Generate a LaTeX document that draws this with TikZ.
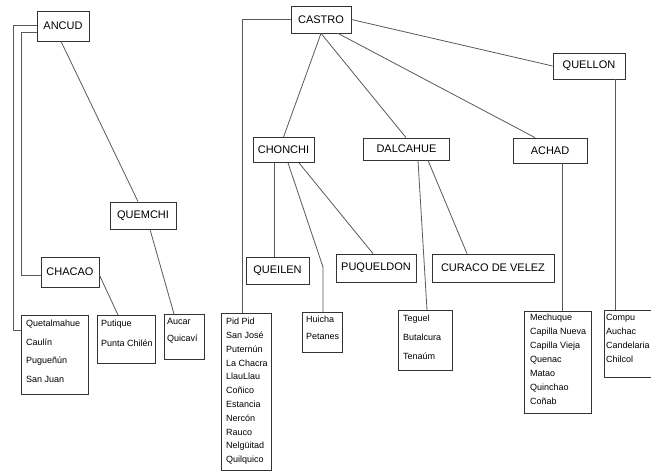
\documentclass[tikz,border=0pt]{standalone}
\usepackage{fontspec}
\setmainfont{Liberation Sans}
\usetikzlibrary{calc}
\tikzset{
  bigbox/.style={draw=black!80, line width=0.8pt, inner sep=0pt, font=\fontsize{11}{13}\selectfont},
  listbox/.style={draw=black!80, line width=0.8pt, inner sep=0pt, anchor=north west},
  listtext/.style={anchor=north west, inner sep=0pt, align=left},
  conn/.style={draw=black!65, line width=0.8pt},
}
\begin{document}
\begin{tikzpicture}[x=1pt,y=-1pt]
\useasboundingbox (0,0) rectangle (651,471);
% main boxes
\node[bigbox, minimum width=52pt, minimum height=30pt] (ancud) at (63,26) {ANCUD};
\node[bigbox, minimum width=66pt, minimum height=27pt] (quemchi) at (143,215.5) {QUEMCHI};
\node[bigbox, minimum width=58pt, minimum height=30pt] (chacao) at (70,272) {CHACAO};
\node[bigbox, minimum width=60pt, minimum height=27pt] (castro) at (321,19.5) {CASTRO};
\node[bigbox, minimum width=61pt, minimum height=25pt] (chonchi) at (283.5,150) {CHONCHI};
\node[bigbox, minimum width=86pt, minimum height=22pt] (dal) at (406.5,149) {DALCAHUE};
\node[bigbox, minimum width=74pt, minimum height=25pt] (achad) at (550,150.5) {ACHAD};
\node[bigbox, minimum width=72pt, minimum height=26pt] (quellon) at (589,66) {QUELLON};
\node[bigbox, minimum width=63pt, minimum height=27pt] (queilen) at (277.5,270.5) {QUEILEN};
\node[bigbox, minimum width=80pt, minimum height=28pt] (puq) at (376,268) {PUQUELDON};
\node[bigbox, minimum width=122pt, minimum height=28pt] (curaco) at (493,268) {CURACO DE VELEZ};
% list boxes
\node[listbox, minimum width=67pt, minimum height=79pt] (quet) at (21,315) {};
\node[listtext, font=\fontsize{9}{18.5}\selectfont] (quett) at ([xshift=5pt,yshift=-5pt]quet.north west) {Quetalmahue\\Caulín\\Pugueñún\\San Juan};
\node[listbox, minimum width=58pt, minimum height=48pt] (puti) at (97,315) {};
\node[listtext, font=\fontsize{9}{20}\selectfont] (putit) at ([xshift=4pt,yshift=-5pt]puti.north west) {Putique\\Punta Chilén};
\node[listbox, minimum width=40pt, minimum height=45pt] (aucar) at (164,314) {};
\node[listtext, font=\fontsize{9}{17}\selectfont] (aucart) at ([xshift=3pt,yshift=-4pt]aucar.north west) {Aucar\\Quicaví};
\node[listbox, minimum width=50pt, minimum height=157pt] (pid) at (221,313) {};
\node[listtext, font=\fontsize{9}{13.8}\selectfont] (pidt) at ([xshift=5pt,yshift=-5pt]pid.north west) {Pid Pid\\San José\\Puternún\\La Chacra\\LlauLlau\\Coñico\\Estancia\\Nercón\\Rauco\\Nelgüitad\\Quilquico};
\node[listbox, minimum width=40pt, minimum height=40pt] (huicha) at (302,312) {};
\node[listtext, font=\fontsize{9}{17}\selectfont] (huichat) at ([xshift=4pt,yshift=-4pt]huicha.north west) {Huicha\\Petanes};
\node[listbox, minimum width=54pt, minimum height=60pt] (teguel) at (398,310) {};
\node[listtext, font=\fontsize{9}{19}\selectfont] (teguelt) at ([xshift=5pt,yshift=-5pt]teguel.north west) {Teguel\\Butalcura\\Tenaúm};
\node[listbox, minimum width=67pt, minimum height=102pt] (mech) at (524,311) {};
\node[listtext, font=\fontsize{9}{14}\selectfont] (mecht) at ([xshift=6pt,yshift=-3pt]mech.north west) {Mechuque\\Capilla Nueva\\Capilla Vieja\\Quenac\\Matao\\Quinchao\\Coñab};
\node[listbox, minimum width=49pt, minimum height=67pt] (compu) at (604,310) {};
\node[listtext, font=\fontsize{9}{14}\selectfont] (comput) at ([xshift=2pt,yshift=-4pt]compu.north west) {Compu\\Auchac\\Candelaria\\Chilcol};
% connectors
\coordinate (bendh) at (323,267);
\draw[conn] ([yshift=1pt]ancud.west) -- ++(-23,0) |- ([yshift=24.5pt]quet.west);
\draw[conn] ([yshift=-6pt]ancud.west) -- ++(-15,0) |- ([yshift=-3pt]chacao.west);
\draw[conn] ([xshift=-2pt]ancud.south) -- ([xshift=-5pt]quemchi.north);
\draw[conn] ([xshift=7pt]quemchi.south) -- ([xshift=10pt]aucar.north west);
\draw[conn] ([yshift=-3pt]chacao.east) -- ([xshift=21pt]puti.north west);
\draw[conn] (castro.west) -| ([xshift=21pt]pid.north west);
\draw[conn] (castro.south) -- (chonchi.north);
\draw[conn] (castro.south) -- ([xshift=-0.5pt]dal.north);
\draw[conn] ([xshift=17pt]castro.south) -- ([xshift=-15pt]achad.north);
\draw[conn] (castro.east) -- (quellon.west);
\draw[conn] ([xshift=26pt]quellon.south) -- ([xshift=26pt]quellon.south |- compu.north);
\draw[conn] ([xshift=12pt]achad.south) -- ([xshift=12pt]achad.south |- mech.north);
\draw[conn] ([xshift=-9.5pt]chonchi.south) -- ([xshift=-9.5pt]chonchi.south |- queilen.north);
\draw[conn] ([xshift=4.5pt]chonchi.south) -- (bendh) -- (bendh |- huicha.north);
\draw[conn] ([xshift=15.5pt]chonchi.south) -- ([xshift=-3pt]puq.north);
\draw[conn] ([xshift=11.5pt]dal.south) -- ([xshift=29pt]teguel.north west);
\draw[conn] ([xshift=21.5pt]dal.south) -- ([xshift=-26pt]curaco.north);
\end{tikzpicture}
\end{document}
